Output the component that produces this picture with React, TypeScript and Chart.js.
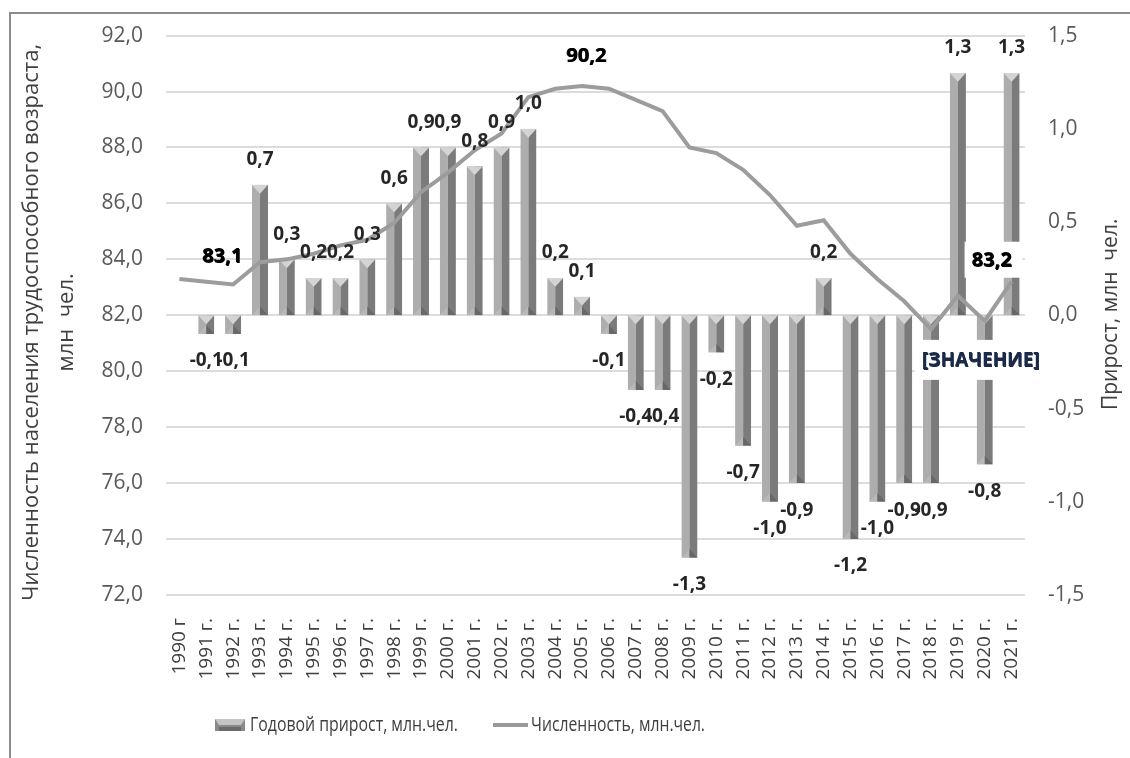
import { useEffect, useRef } from 'react';
import { Chart, registerables } from 'chart.js';
Chart.register(...registerables);

const years = ['1990 г', '1991 г.', '1992 г.', '1993 г.', '1994 г.', '1995 г.', '1996 г.', '1997 г.', '1998 г.', '1999 г.', '2000 г.', '2001 г.', '2002 г.', '2003 г.', '2004 г.', '2005 г.', '2006 г.', '2007 г.', '2008 г.', '2009 г.', '2010 г.', '2011 г.', '2012 г.', '2013 г.', '2014 г.', '2015 г.', '2016 г.', '2017 г.', '2018 г.', '2019 г.', '2020 г.', '2021 г.'];
const growth = [null, -0.1, -0.1, 0.7, 0.3, 0.2, 0.2, 0.3, 0.6, 0.9, 0.9, 0.8, 0.9, 1.0, 0.2, 0.1, -0.1, -0.4, -0.4, -1.3, -0.2, -0.7, -1.0, -0.9, 0.2, -1.2, -1.0, -0.9, -0.9, 1.3, -0.8, 1.3];
const population = [83.3, 83.2, 83.1, 83.9, 84.0, 84.2, 84.5, 84.7, 85.3, 86.4, 87.1, 87.9, 88.5, 89.8, 90.1, 90.2, 90.1, 89.7, 89.3, 88.0, 87.8, 87.2, 86.3, 85.2, 85.4, 84.2, 83.3, 82.5, 81.5, 82.7, 81.8, 83.2];
const barLabel = 'Годовой прирост, млн.чел.';
const lineLabel = 'Численность, млн.чел.';
const leftTitle = ['Численность населения трудоспособного возраста,', 'млн  чел.'];
const rightTitle = 'Прирост, млн  чел.';
const placeholderText = '[ЗНАЧЕНИЕ]';
// line value labels: which points get a label
const lineLabelIdx = [2, 15, 31];
const placeholderIdx = 30;

const FONT = "'Open Sans', 'Noto Sans', sans-serif";
const fmt = (v: number) => v.toFixed(1).replace('.', ',');

function bevelBar(ctx: CanvasRenderingContext2D, x: number, top: number, bottom: number, w: number) {
  const l = x - w / 2, r = x + w / 2;
  const h = bottom - top;
  if (h <= 0) return;
  ctx.save();
  ctx.beginPath();
  ctx.rect(l, top, w, h);
  ctx.clip();
  ctx.fillStyle = '#adadad';
  ctx.fillRect(l, top, w / 2, h);
  ctx.fillStyle = '#7b7b7b';
  ctx.fillRect(x, top, w / 2, h);
  const cap = Math.min(w * 0.55, h);
  ctx.fillStyle = '#d4d4d4';
  ctx.beginPath();
  ctx.moveTo(l, top); ctx.lineTo(r, top); ctx.lineTo(x, top + cap); ctx.closePath(); ctx.fill();
  ctx.fillStyle = '#b8b8b8';
  ctx.beginPath();
  ctx.moveTo(l, bottom); ctx.lineTo(x, bottom - cap); ctx.lineTo(x, bottom); ctx.closePath(); ctx.fill();
  ctx.fillStyle = '#686868';
  ctx.beginPath();
  ctx.moveTo(x, bottom); ctx.lineTo(x, bottom - cap); ctx.lineTo(r, bottom); ctx.closePath(); ctx.fill();
  ctx.restore();
}

function narrowText(ctx: CanvasRenderingContext2D, t: string, x: number, y: number, sx: number) {
  ctx.save();
  ctx.translate(x, y);
  ctx.scale(sx, 1);
  ctx.fillText(t, 0, 0);
  ctx.restore();
}

const customPlugin = {
  id: 'custom',
  beforeDatasetDraw(chart: any, args: any) {
    if (args.meta.type !== 'bar') return;
    const ctx = chart.ctx;
    args.meta.data.forEach((el: any, i: number) => {
      if (growth[i] === null) return;
      const p = el.getProps(['x', 'y', 'base', 'width'], true);
      bevelBar(ctx, p.x, Math.min(p.y, p.base), Math.max(p.y, p.base), p.width);
    });
    return false;
  },
  afterDatasetsDraw(chart: any) {
    const ctx = chart.ctx;
    const barMeta = chart.getDatasetMeta(1);
    const lineMeta = chart.getDatasetMeta(0);
    ctx.save();
    ctx.textAlign = 'center';
    ctx.textBaseline = 'middle';
    ctx.font = `bold 19px ${FONT}`;
    ctx.fillStyle = '#262626';
    barMeta.data.forEach((el: any, i: number) => {
      const v = growth[i];
      if (v === null) return;
      const y = v >= 0 ? el.y - 25 : el.y + 27;
      ctx.fillText(fmt(v), el.x, y);
    });
    const offsets: Record<number, [number, number]> = { 2: [-11, -28], 15: [4, -30], 31: [-20, -21] };
    ctx.font = `bold 20px ${FONT}`;
    lineLabelIdx.forEach((i) => {
      const el = lineMeta.data[i];
      const [dx, dy] = offsets[i];
      const t = fmt(population[i]);
      const tx = el.x + dx, ty = el.y + dy;
      if (i === 31) {
        ctx.fillStyle = '#ffffff';
        ctx.fillRect(tx - 27, ty - 19, 58, 36);
      }
      ctx.fillStyle = '#000000';
      ctx.fillText(t, tx, ty);
      ctx.fillText(t, tx + 0.8, ty + 0.6);
    });
    const pel = lineMeta.data[placeholderIdx];
    const px = pel.x - 4, py = pel.y + 40;
    ctx.fillStyle = '#ffffff';
    ctx.fillRect(px - 66, py - 21, 132, 40);
    ctx.font = `bold 19px ${FONT}`;
    ctx.fillStyle = '#1b2a48';
    ctx.fillText(placeholderText, px, py);
    ctx.fillText(placeholderText, px + 0.6, py + 0.4);
    ctx.restore();
  },
  afterDraw(chart: any) {
    const ctx = chart.ctx;
    const area = chart.chartArea;
    const cy = (area.top + area.bottom) / 2 + 7;
    ctx.save();
    ctx.strokeStyle = '#8c8c8c';
    ctx.lineWidth = 2;
    ctx.beginPath();
    ctx.moveTo(1130, 13); ctx.lineTo(10, 13); ctx.lineTo(10, 758);
    ctx.stroke();
    ctx.fillStyle = '#404040';
    ctx.font = `22px ${FONT}`;
    ctx.textAlign = 'center';
    ctx.textBaseline = 'middle';
    ctx.save();
    ctx.translate(32, cy);
    ctx.rotate(-Math.PI / 2);
    ctx.fillText(leftTitle[0], 0, 0);
    ctx.restore();
    ctx.save();
    ctx.translate(67, cy);
    ctx.rotate(-Math.PI / 2);
    ctx.fillText(leftTitle[1], 0, 0);
    ctx.restore();
    ctx.font = `21px ${FONT}`;
    ctx.save();
    ctx.translate(1111, cy - 8);
    ctx.rotate(-Math.PI / 2);
    ctx.fillText(rightTitle, 0, 0);
    ctx.restore();
    // legend
    const ly = 725;
    ctx.textAlign = 'left';
    ctx.font = `20px ${FONT}`;
    const sl = 215, sw = 30, sh = 12;
    ctx.fillStyle = '#8a8a8a';
    ctx.fillRect(sl, ly - sh / 2, sw, sh);
    ctx.fillStyle = '#c4c4c4';
    ctx.beginPath();
    ctx.moveTo(sl, ly - sh / 2); ctx.lineTo(sl + sw, ly - sh / 2); ctx.lineTo(sl + sw - 4, ly); ctx.lineTo(sl + 4, ly); ctx.closePath(); ctx.fill();
    ctx.fillStyle = '#6a6a6a';
    ctx.fillRect(sl + 4, ly + 2, sw - 8, sh / 2 - 2);
    ctx.fillStyle = '#404040';
    const w1 = ctx.measureText(barLabel).width;
    narrowText(ctx, barLabel, 250, ly, 208 / w1);
    ctx.strokeStyle = '#9a9a9a';
    ctx.lineWidth = 4;
    ctx.beginPath();
    ctx.moveTo(493, ly); ctx.lineTo(528, ly);
    ctx.stroke();
    const w2 = ctx.measureText(lineLabel).width;
    narrowText(ctx, lineLabel, 531, ly, 174 / w2);
    ctx.restore();
  },
};

export default function App() {
  const ref = useRef<HTMLCanvasElement>(null);
  useEffect(() => {
    document.body.style.margin = '0';
    const c = new Chart(ref.current!, {
      data: {
        labels: years,
        datasets: [
          {
            type: 'line',
            label: lineLabel,
            data: population,
            yAxisID: 'y',
            borderColor: '#9c9c9c',
            borderWidth: 4,
            pointRadius: 0,
            tension: 0,
            order: 0,
          },
          {
            type: 'bar',
            label: barLabel,
            data: growth as any,
            yAxisID: 'y1',
            backgroundColor: '#8a8a8a',
            categoryPercentage: 1,
            barPercentage: 0.6,
            order: 1,
          },
        ],
      } as any,
      options: {
        responsive: false,
        animation: false,
        layout: { padding: { top: 31, left: 0, right: 0, bottom: 0 } },
        plugins: { legend: { display: false }, tooltip: { enabled: false } },
        scales: {
          x: {
            grid: { display: false },
            border: { display: false },
            ticks: {
              autoSkip: false,
              minRotation: 90,
              maxRotation: 90,
              padding: 15,
              color: '#404040',
              font: { family: FONT, size: 19 },
            },
            afterFit: (s: any) => { s.height = 163; },
          },
          y: {
            position: 'left',
            min: 72,
            max: 92,
            grid: { color: '#dcdcdc', lineWidth: 2, drawTicks: false },
            border: { display: false },
            ticks: {
              stepSize: 2,
              padding: 23,
              color: '#595959',
              font: { family: FONT, size: 21 },
              callback: (v: any) => fmt(Number(v)),
            },
            afterFit: (s: any) => { s.width = 166; },
          },
          y1: {
            position: 'right',
            min: -1.5,
            max: 1.5,
            grid: { display: false, drawTicks: false },
            border: { display: false },
            ticks: {
              stepSize: 0.5,
              padding: 23,
              color: '#595959',
              font: { family: FONT, size: 21 },
              callback: (v: any) => fmt(Number(v)),
            },
            afterFit: (s: any) => { s.width = 105; },
          },
        },
      } as any,
      plugins: [customPlugin],
    });
    return () => c.destroy();
  }, []);
  return (
    <div style={{ width: 1130, height: 758, background: '#ffffff' }}>
      <canvas ref={ref} width={1130} height={758} />
    </div>
  );
}
